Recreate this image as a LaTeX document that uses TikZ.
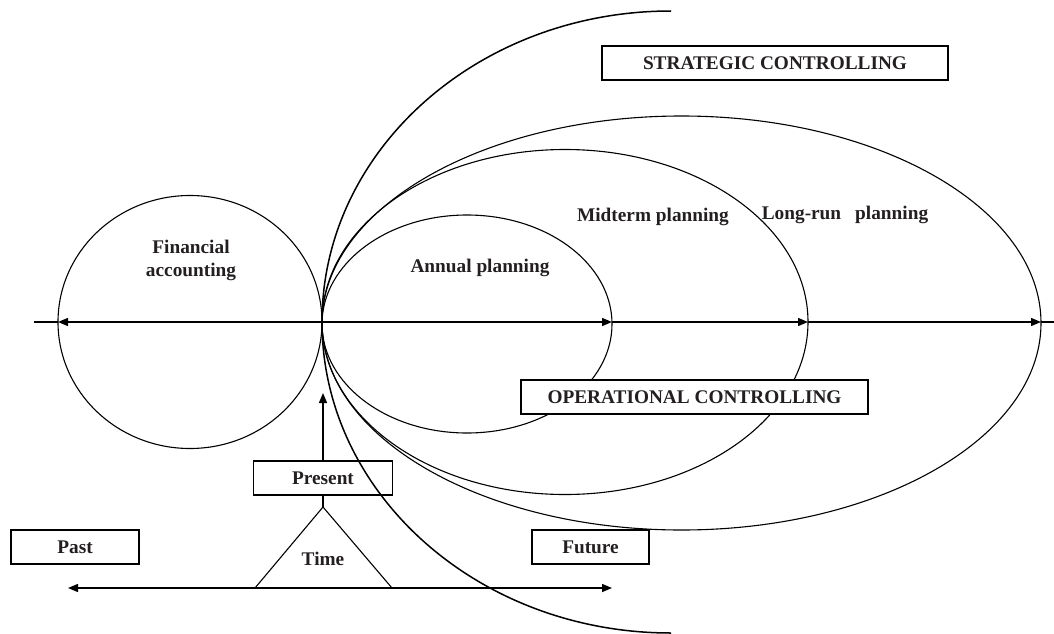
\documentclass[tikz,border=0pt]{standalone}
\usepackage{fontspec}
\setmainfont{Liberation Serif}
\usetikzlibrary{arrows.meta,shapes.geometric}
\definecolor{txt}{RGB}{35,31,32}
\begin{document}
\begin{tikzpicture}[x=1pt,y=-1pt,
  ell/.style={draw, ellipse, inner sep=0pt, outer sep=0pt, line width=1.1pt},
  lbl/.style={font=\fontsize{19.3}{23}\selectfont\bfseries, text=txt, align=center, inner sep=0pt},
  tbox/.style={draw, line width=1.2pt, fill=white, inner sep=0pt, outer sep=0pt,
    minimum height=34pt, font=\fontsize{19.3}{23}\selectfont\bfseries, text=txt},
  tip/.style={Triangle[length=10pt,width=8pt]},
  axis/.style={line width=1.4pt, -{Triangle[length=10pt,width=8pt]}},
  plain/.style={line width=1.4pt}
]
\useasboundingbox (0,0) rectangle (1054,634);

% ellipses
\node[ell, minimum width=264pt, minimum height=253pt] (fin) at (190,322) {};
\node[ell, minimum width=290pt, minimum height=218pt] (ann) at (467,324) {};
\node[ell, minimum width=486pt, minimum height=345pt] (mid) at (565,322) {};
\node[ell, minimum width=719pt, minimum height=414pt] (long) at (681.5,323) {};

% horizontal axis
\coordinate (axL) at (34,322);
\coordinate (axR) at (1054,322);
\draw[plain] (fin.west) -- (axL);
\draw[axis] (fin.east) -- (fin.west);
\draw[axis] (fin.east) -- (ann.east |- axL);
\draw[axis] (ann.east |- axL) -- (mid.east |- axL);
\draw[axis] (mid.east |- axL) -- (long.east |- axL);
\draw[plain] (long.east |- axL) -- (axR);

% labels in ellipses
\node[lbl] (fa) at (191,260) {Financial\\accounting};
\node[lbl] (ap) at (480,268) {Annual planning};
\node[lbl] (mp) at (653,217) {Midterm planning};
\node[lbl] (lp) at (845,215) {Long-run\hspace{14pt}planning};

% boxes
\node[tbox, minimum width=346pt] (sc) at (775,63) {STRATEGIC CONTROLLING};
\node[tbox, minimum width=347pt] (oc) at (694.5,397) {OPERATIONAL CONTROLLING};
\node[tbox, minimum width=139pt] (pr) at (323,478) {Present};
\node[tbox, minimum width=128pt] (pa) at (75,547) {Past};
\node[tbox, minimum width=117pt] (fu) at (590.5,547) {Future};

% present arrow and time triangle
\coordinate (prtip) at (323,393);
\draw[axis] (pr.north) -- (prtip);
\coordinate (apex) at (323,507);
\coordinate (bl) at (255,588);
\coordinate (br) at (392,588);
\draw[line width=1.2pt] (pr.south) -- (apex);
\draw[line width=1.1pt] (bl) -- (apex) -- (br);
\node[lbl] (time) at (323,559) {Time};
\coordinate (tL) at (68,588);
\coordinate (tR) at (612,588);
\draw[line width=1.4pt, {Triangle[length=10pt,width=8pt]}-{Triangle[length=10pt,width=8pt]}] (tL) -- (tR);

% big strategic arc
\draw[line width=1.5pt] (671,11) arc[start angle=90, end angle=270, x radius=349pt, y radius=311pt];
\end{tikzpicture}
\end{document}
